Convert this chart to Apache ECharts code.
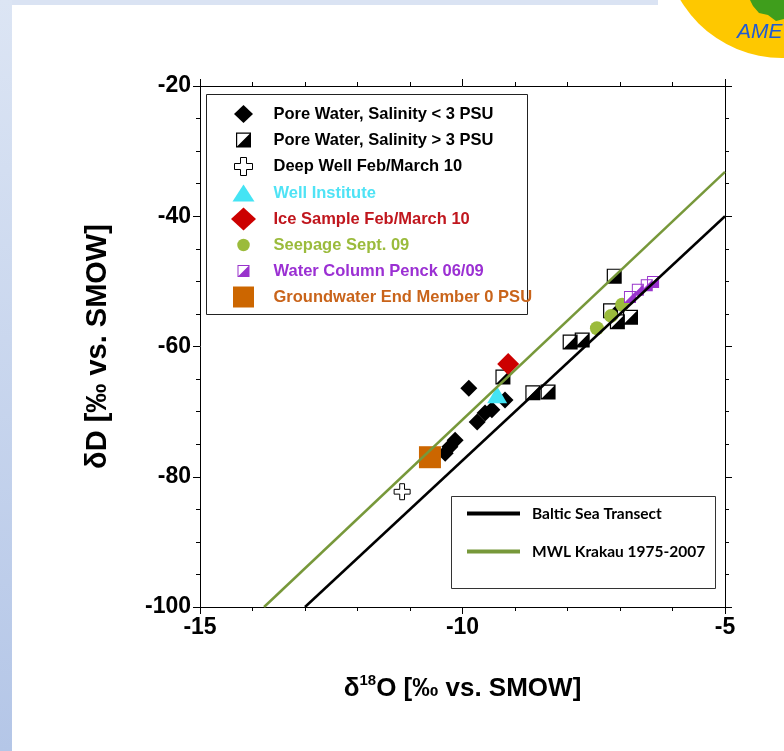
<!DOCTYPE html>
<html><head><meta charset="utf-8">
<script src="https://cdn.jsdelivr.net/npm/echarts@6/dist/echarts.min.js"></script>
<style>html,body{margin:0;padding:0;background:#fff}#c{width:784px;height:751px}</style>
</head><body><div id="c"></div>
<script>
// ---- data ----
const xTickValues = [-15, -10, -5];
const yTickValues = [-100, -80, -60, -40, -20];

const poreLow = [[-9.88,-66.4],[-9.19,-68.2],[-9.44,-69.7],[-9.57,-70.2],[-9.72,-71.6],[-10.14,-74.4],[-10.24,-75.4],[-10.33,-76.4]];
const poreHigh = [[-9.23,-64.7],[-8.66,-67.1],[-8.37,-67.0],[-7.95,-59.3],[-7.72,-59.0],[-7.11,-49.2],[-7.18,-54.5],[-7.05,-56.2],[-6.80,-55.5]];
const deepWell = [[-11.15,-82.3]];
const wellInstitute = [[-9.34,-67.4]];
const iceSample = [[-9.13,-62.7]];
const seepage = [[-7.44,-57.2],[-7.17,-55.3],[-6.96,-53.6]];
const penck = [[-6.81,-52.4],[-6.66,-51.3],[-6.49,-50.6],[-6.37,-50.1]];
const groundwater = [[-10.62,-77.0]];
const balticLine = [[-13.0,-100],[-5,-40]];
const mwlLine = [[-13.78,-100],[-5,-33.2]];

const names = ['Pore Water, Salinity < 3 PSU','Pore Water, Salinity > 3 PSU','Deep Well Feb/March 10','Well Institute','Ice Sample Feb/March 10','Seepage Sept. 09','Water Column Penck 06/09','Groundwater End Member 0 PSU'];
const lineNames = ['Baltic Sea Transect','MWL Krakau 1975-2007'];

// ---- styles ----
const FONT = "'Liberation Sans', Arial, sans-serif";
const HALF = 'path://M0,0L20,0L20,20L0,20Z M1.6,1.6L1.6,18.4L18.4,18.4L18.4,1.6Z M20,0L20,20L0,20Z';
const CROSS = 'path://M7,0L13,0L13,7L20,7L20,13L13,13L13,20L7,20L7,13L0,13L0,7L7,7Z';

const icons = [
  'path://M0,0M26,26M13,4L22.5,13L13,22L3.5,13Z',
  'path://M0,0M26,26M5.5,5.5L20.5,5.5L20.5,20.5L5.5,20.5Z M6.7,6.7L6.7,19.3L19.3,19.3L19.3,6.7Z M20.5,5.5L20.5,20.5L5.5,20.5Z',
  'path://M0,0M26,26M10,4L16,4L16,10L22,10L22,16L16,16L16,22L10,22L10,16L4,16L4,10L10,10Z',
  'path://M0,0M26,26M13,4.5L24,21.5L2,21.5Z',
  'path://M0,0M26,26M13,1.5L25.5,13L13,24.5L0.5,13Z',
  'path://M0,0M26,26M6.75,13A6.25,6.25,0,1,1,19.25,13A6.25,6.25,0,1,1,6.75,13Z',
  'path://M0,0M26,26M7,7L19,7L19,19L7,19Z M8,8L8,18L18,18L18,8Z M19,7L19,19L7,19Z',
  'path://M0,0M26,26M2.5,2.5L23.5,2.5L23.5,23.5L2.5,23.5Z'
];
const textColors = ['#000','#000','#000','#4fe3f5','#c0161d','#9bbb3c','#9b30d3','#c9641a'];

const legendData = names.map((n, i) => {
  const d = {name: n, icon: icons[i], textStyle: {color: textColors[i]}};
  if (i === 2) d.itemStyle = {borderColor: '#000', borderWidth: 1};
  return d;
});

function axisCommon(showLabel) {
  return {
    type: 'value',
    axisLine: {show: true, onZero: false, lineStyle: {color: '#000', width: 1}},
    axisTick: {show: true, length: 7, lineStyle: {color: '#000'}},
    splitLine: {show: false},
    axisLabel: {show: showLabel, fontSize: 23, fontWeight: 'bold', color: '#000', fontFamily: FONT, margin: 9}
  };
}

const xMin = xTickValues[0], xMax = xTickValues[xTickValues.length-1], xInt = xTickValues[1]-xTickValues[0];
const yMin = yTickValues[0], yMax = yTickValues[yTickValues.length-1], yInt = yTickValues[1]-yTickValues[0];

const chart = echarts.init(document.getElementById('c'), null, {renderer: 'canvas'});
chart.setOption({
  backgroundColor: '#fff',
  animation: false,
  grid: {left: 200, right: 59, top: 86, bottom: 144, containLabel: false},
  xAxis: [
    Object.assign(axisCommon(true), {
      position: 'bottom', min: xMin, max: xMax, interval: xInt,
      minorTick: {show: true, splitNumber: 5, length: 4, lineStyle: {color: '#000'}},
      name: '{d|δ}{s|18}{d|O [‰ vs. SMOW]}', nameLocation: 'middle', nameGap: 66,
      nameTextStyle: {rich: {
        d: {fontSize: 26, fontWeight: 'bold', fontFamily: FONT, color: '#000', lineHeight: 32},
        s: {fontSize: 15, fontWeight: 'bold', fontFamily: FONT, color: '#000', verticalAlign: 'top', lineHeight: 32}
      }}
    }),
    Object.assign(axisCommon(false), {
      position: 'top', min: xMin, max: xMax, interval: xInt,
      minorTick: {show: true, splitNumber: 5, length: 4, lineStyle: {color: '#000'}}
    })
  ],
  yAxis: [
    Object.assign(axisCommon(true), {
      position: 'left', min: yMin, max: yMax, interval: yInt,
      minorTick: {show: true, splitNumber: 4, length: 4, lineStyle: {color: '#000'}},
      name: 'δD [‰ vs. SMOW]', nameLocation: 'middle', nameRotate: 90, nameGap: 88,
      nameTextStyle: {fontSize: 29, fontWeight: 'bold', fontFamily: FONT, color: '#000'}
    }),
    Object.assign(axisCommon(false), {
      position: 'right', min: yMin, max: yMax, interval: yInt,
      minorTick: {show: true, splitNumber: 4, length: 4, lineStyle: {color: '#000'}}
    })
  ],
  legend: [
    {
      orient: 'vertical', left: 230, top: 101, padding: 0,
      itemWidth: 26, itemHeight: 26, itemGap: 0, selectedMode: false,
      data: legendData,
      textStyle: {fontSize: 16.5, fontWeight: 'bold', fontFamily: FONT, padding: [0, 0, 0, 12]}
    },
    {
      orient: 'vertical', left: 465, top: 505.5, padding: 0,
      itemWidth: 53, itemHeight: 20, itemGap: 22, selectedMode: false,
      data: lineNames.map(n => ({name: n, itemStyle: {opacity: 0}, lineStyle: {width: 4}})),
      textStyle: {fontSize: 15.5, fontWeight: 'bold', fontFamily: "Lato, 'Liberation Sans', Arial", color: '#000', padding: [0, 0, 0, 7]}
    }
  ],
  graphic: [
    {type: 'rect', shape: {x: 0, y: 0, width: 658, height: 5}, style: {fill: '#dae3f3'}, z: 0, silent: true},
    {type: 'rect', shape: {x: 0, y: 0, width: 12, height: 751}, style: {fill: new echarts.graphic.LinearGradient(0, 0, 0, 1, [{offset: 0, color: '#dce5f4'}, {offset: 1, color: '#b4c6e7'}])}, z: 0, silent: true},
    {type: 'circle', shape: {cx: 782, cy: -60, r: 122}, style: {fill: '#ffffff'}, z: 0, silent: true},
    {type: 'circle', shape: {cx: 782, cy: -60, r: 118}, style: {fill: '#fec800'}, z: 0, silent: true},
    {type: 'polygon', shape: {points: [[750,0],[784,0],[784,19],[776,21],[768,15],[759,13],[753,6]]}, style: {fill: '#3f9e1c'}, z: 0, silent: true},
    {type: 'text', x: 737, y: 22, style: {text: 'AME', font: 'italic 21px ' + FONT, fill: '#1f5ad4'}, z: 0, silent: true},
    {type: 'rect', shape: {x: 206.5, y: 94.5, width: 321, height: 220}, style: {fill: '#fff', stroke: '#222', lineWidth: 1}, z: 1, silent: true},
    {type: 'rect', shape: {x: 451.5, y: 496.5, width: 264, height: 92}, style: {fill: '#fff', stroke: '#333', lineWidth: 1}, z: 1, silent: true}
  ],
  series: [
    {name: names[0], type: 'scatter', data: poreLow, symbol: 'diamond', symbolSize: 17, itemStyle: {color: '#000', opacity: 1}, z: 3},
    {name: 'bgHigh', type: 'scatter', data: poreHigh, symbol: 'rect', symbolSize: 15, itemStyle: {color: '#fff', opacity: 1}, silent: true, z: 3},
    {name: names[1], type: 'scatter', data: poreHigh, symbol: HALF, symbolSize: 15, itemStyle: {color: '#000', opacity: 1}, z: 3},
    {name: names[2], type: 'scatter', data: deepWell, symbol: CROSS, symbolSize: 16, itemStyle: {color: '#fff', borderColor: '#000', borderWidth: 1, opacity: 1}, z: 3},
    {name: names[3], type: 'scatter', data: wellInstitute, symbol: 'triangle', symbolSize: [20, 17], itemStyle: {color: '#44e4f4', opacity: 1}, z: 3},
    {name: names[4], type: 'scatter', data: iceSample, symbol: 'diamond', symbolSize: 22, itemStyle: {color: '#cc0000', opacity: 1}, z: 3},
    {name: names[5], type: 'scatter', data: seepage, symbol: 'circle', symbolSize: 14, itemStyle: {color: '#9bbb3b', opacity: 1}, z: 3},
    {name: 'bgPenck', type: 'scatter', data: penck, symbol: 'rect', symbolSize: 12, itemStyle: {color: '#fff', opacity: 1}, silent: true, z: 3},
    {name: names[6], type: 'scatter', data: penck, symbol: HALF, symbolSize: 12, itemStyle: {color: '#9933cc', opacity: 1}, z: 3},
    {name: names[7], type: 'scatter', data: groundwater, symbol: 'rect', symbolSize: 22, itemStyle: {color: '#cc6600', opacity: 1}, z: 3},
    {name: lineNames[0], type: 'line', data: balticLine, symbol: 'none', showSymbol: false, lineStyle: {color: '#000', width: 2.5}, itemStyle: {color: '#000'}, z: 5, clip: true},
    {name: lineNames[1], type: 'line', data: mwlLine, symbol: 'none', showSymbol: false, lineStyle: {color: '#77983a', width: 2.5}, itemStyle: {color: '#77983a'}, z: 5, clip: true}
  ]
});
</script>
</body></html>
